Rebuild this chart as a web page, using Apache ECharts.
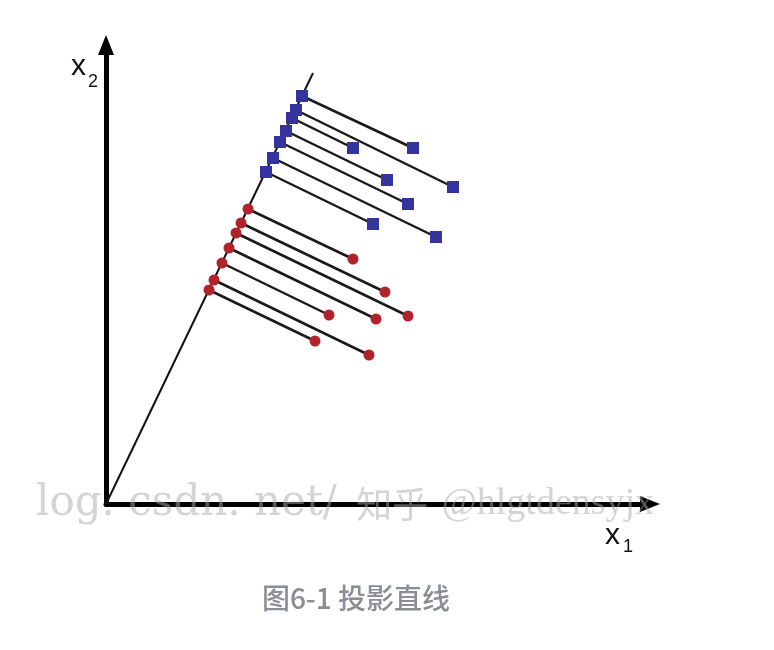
<!DOCTYPE html>
<html>
<head>
<meta charset="utf-8">
<script src="https://cdn.jsdelivr.net/npm/echarts@6/dist/echarts.min.js"></script>
<style>
html,body{margin:0;padding:0;background:#fff;}
#chart{width:774px;height:650px;}
</style>
</head>
<body>
<div id="chart"></div>
<script>
// Values (origin at the axes' corner)
const blueX = [307, 247, 347, 281, 302, 267, 330];
const blueY = [356, 356, 317, 324, 300, 280, 267];
const blueProjX = [196, 186, 190, 180, 174, 160, 167];
const blueProjY = [408, 386, 394, 373, 362, 332, 346];

const redX = [247, 279, 302, 223, 270, 209, 263];
const redY = [245, 212, 188, 189, 185, 163, 149];
const redProjX = [142, 135, 130, 116, 123, 103, 108];
const redProjY = [295, 281, 271, 241, 256, 214, 224];

const projLineX = [0, 207];
const projLineY = [0, 431];

const xAxisName = ['x', '1'];
const yAxisName = ['x', '2'];
const caption = '图6-1 投影直线';
const watermarkParts = ['log. csdn. net/ ', '知乎', ' @hlgtdensyjx'];

const xMax = 544, yMax = 459;

function pts(xs, ys) { return xs.map((v, i) => [v, ys[i]]); }
function segs(ax, ay, bx, by) {
  return ax.map((v, i) => ({ coords: [[v, ay[i]], [bx[i], by[i]]] }));
}

const chart = echarts.init(document.getElementById('chart'), null, { renderer: 'canvas' });
chart.setOption({
  backgroundColor: '#ffffff',
  animation: false,
  grid: { left: 106, right: 124, top: 45, bottom: 146 },
  xAxis: {
    type: 'value', min: 0, max: xMax,
    axisLine: { show: true, onZero: false, symbol: ['none', 'triangle'], symbolSize: [16, 20],
      lineStyle: { color: '#000', width: 5 } },
    axisTick: { show: false }, axisLabel: { show: false }, splitLine: { show: false }
  },
  yAxis: {
    type: 'value', min: 0, max: yMax,
    axisLine: { show: true, onZero: false, symbol: ['none', 'triangle'], symbolSize: [16, 20],
      lineStyle: { color: '#000', width: 5 } },
    axisTick: { show: false }, axisLabel: { show: false }, splitLine: { show: false }
  },
  series: [
    {
      type: 'lines', coordinateSystem: 'cartesian2d', silent: true, z: 2,
      lineStyle: { color: '#111', width: 2, opacity: 1 },
      data: [{ coords: pts(projLineX, projLineY) }]
    },
    {
      type: 'lines', coordinateSystem: 'cartesian2d', silent: true, z: 2,
      lineStyle: { color: '#1a1a1a', width: 2.5, opacity: 1 },
      data: segs(blueX, blueY, blueProjX, blueProjY).concat(segs(redX, redY, redProjX, redProjY))
    },
    {
      type: 'scatter', z: 3, symbol: 'rect', symbolSize: 12,
      itemStyle: { color: '#34349c', opacity: 1 },
      data: pts(blueX, blueY).concat(pts(blueProjX, blueProjY))
    },
    {
      type: 'scatter', z: 3, symbol: 'circle', symbolSize: 11,
      itemStyle: { color: '#b1232c', opacity: 1 },
      data: pts(redX, redY).concat(pts(redProjX, redProjY))
    }
  ],
  graphic: [
    { type: 'text', left: 36, top: 483, z: 10, silent: true,
      style: {
        text: '{a|' + watermarkParts[0] + '}{b|' + watermarkParts[1] + '}{c|' + watermarkParts[2] + '}',
        fill: 'rgba(170,170,170,0.5)',
        rich: {
          a: { font: '42px "DejaVu Serif", serif', fill: 'rgba(170,170,170,0.5)' },
          b: { font: '36px "Noto Sans CJK SC", sans-serif', fill: 'rgba(170,170,170,0.5)', padding: [0, 4, 0, 6] },
          c: { font: '38px "Liberation Serif", serif', fill: 'rgba(170,170,170,0.5)' }
        }
      } },
    { type: 'text', x: 71, y: 67, z: 10,
      style: { text: yAxisName[0], font: '30px "Liberation Sans", Arial, sans-serif', fill: '#111', verticalAlign: 'middle' } },
    { type: 'text', x: 88, y: 82, z: 10,
      style: { text: yAxisName[1], font: '18px "Liberation Sans", Arial, sans-serif', fill: '#111', verticalAlign: 'middle' } },
    { type: 'text', x: 605, y: 536, z: 10,
      style: { text: xAxisName[0], font: '30px "Liberation Sans", Arial, sans-serif', fill: '#111', verticalAlign: 'middle' } },
    { type: 'text', x: 623, y: 547, z: 10,
      style: { text: xAxisName[1], font: '18px "Liberation Sans", Arial, sans-serif', fill: '#111', verticalAlign: 'middle' } },
    { type: 'text', x: 356, y: 598, z: 10,
      style: { text: caption, font: '500 28px "Noto Sans CJK SC", sans-serif', fill: '#8a8d93', align: 'center', verticalAlign: 'middle' } }
  ]
});
</script>
</body>
</html>
